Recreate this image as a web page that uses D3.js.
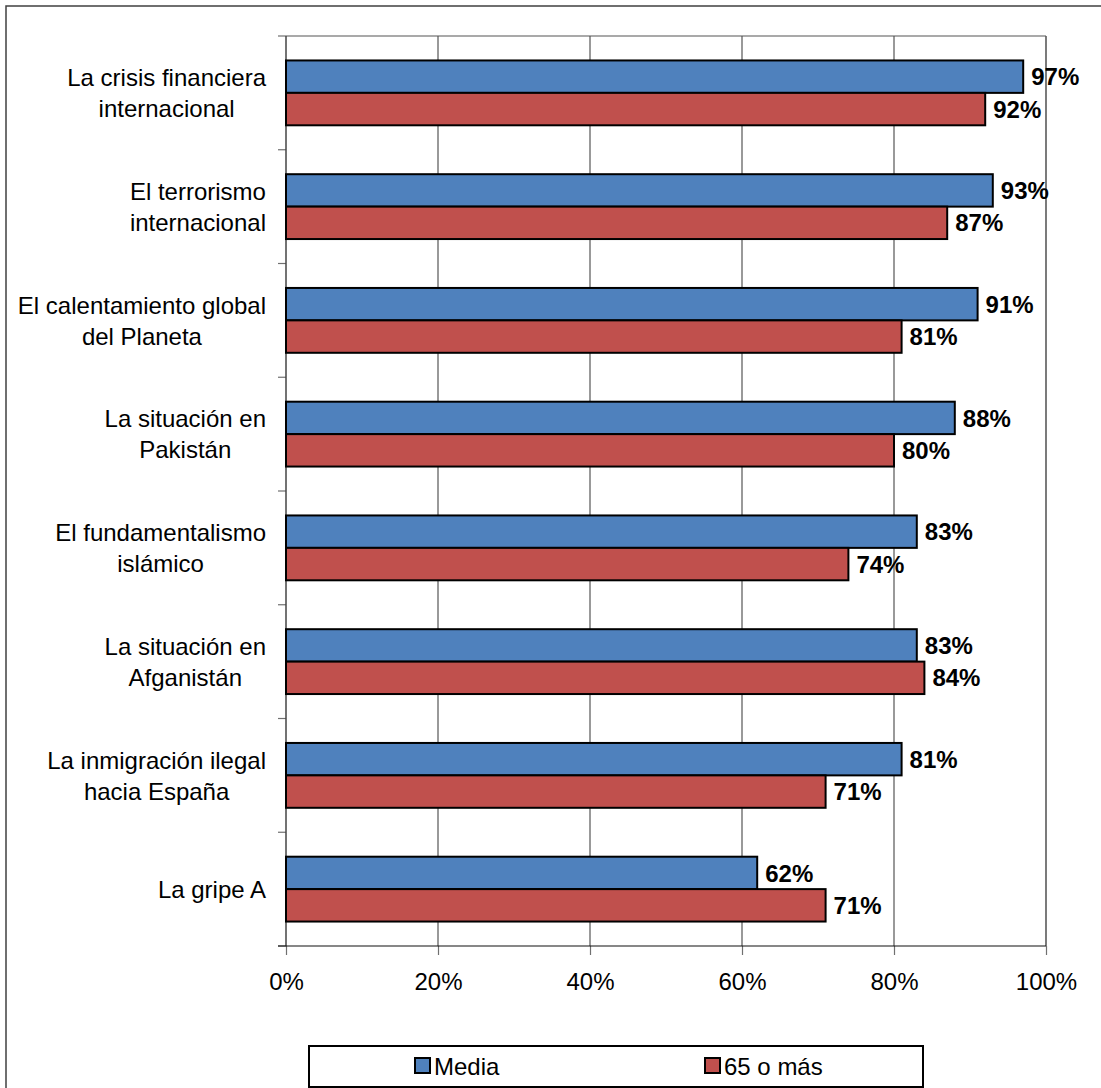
<!DOCTYPE html>
<html>
<head>
<meta charset="utf-8">
<script src="https://cdn.jsdelivr.net/npm/d3@7"></script>
<style>
  body { margin: 0; background: #fff; }
  text { font-family: "Liberation Sans", Arial, sans-serif; }
</style>
</head>
<body>
<script>
var categories = [
  "La crisis financiera|internacional",
  "El terrorismo|internacional",
  "El calentamiento global|del Planeta",
  "La situación en|Pakistán",
  "El fundamentalismo|islámico",
  "La situación en|Afganistán",
  "La inmigración ilegal|hacia España",
  "La gripe A"
];
var seriesNames = ["Media", "65 o más"];
var media = [97, 93, 91, 88, 83, 83, 81, 62];
var mayores = [92, 87, 81, 80, 74, 84, 71, 71];
var tickValues = [0, 20, 40, 60, 80, 100];
var colors = ["#4F81BD", "#C0504D"];

var width = 1101, height = 1088;
var margin = { left: 286, right: 55, top: 36, bottom: 142 };

var svg = d3.select("body").append("svg")
  .attr("width", width)
  .attr("height", height);

// outer chart border (cut off on right and bottom)
svg.append("rect")
  .attr("x", 6).attr("y", 6)
  .attr("width", 1100).attr("height", 1090)
  .attr("fill", "none")
  .attr("stroke", "#404040")
  .attr("stroke-width", 1.5);

var x = d3.scaleLinear()
  .domain([0, 100])
  .range([margin.left, width - margin.right]);

var y = d3.scaleBand()
  .domain(categories)
  .range([margin.top, height - margin.bottom])
  .paddingInner(0.43)
  .paddingOuter(0.215);

var ySub = d3.scaleBand()
  .domain(seriesNames)
  .range([0, y.bandwidth()]);

var plotTop = margin.top, plotBottom = height - margin.bottom;

// vertical gridlines
svg.append("g")
  .selectAll("line")
  .data(tickValues.slice(1))
  .enter()
  .append("line")
  .attr("x1", function (d) { return x(d); })
  .attr("x2", function (d) { return x(d); })
  .attr("y1", plotTop)
  .attr("y2", plotBottom)
  .attr("stroke", function (d) { return d === 100 ? "#222" : "#555"; })
  .attr("stroke-width", 1.2);

// top frame line
svg.append("line")
  .attr("x1", x(0)).attr("x2", x(100))
  .attr("y1", plotTop).attr("y2", plotTop)
  .attr("stroke", "#555").attr("stroke-width", 1.2);

// y axis (category ticks between groups)
var step = y.step();
var yTicks = d3.range(categories.length + 1).map(function (i) { return plotTop + i * step; });
svg.append("g")
  .selectAll("line")
  .data(yTicks)
  .enter()
  .append("line")
  .attr("x1", x(0) - 8).attr("x2", x(0))
  .attr("y1", function (d) { return d; })
  .attr("y2", function (d) { return d; })
  .attr("stroke", "#707070").attr("stroke-width", 1.2);

svg.append("line")
  .attr("x1", x(0)).attr("x2", x(0))
  .attr("y1", plotTop).attr("y2", plotBottom)
  .attr("stroke", "#444").attr("stroke-width", 1.5);

// x axis
var xAxis = d3.axisBottom(x)
  .tickValues(tickValues)
  .tickSize(9)
  .tickFormat(function (d) { return d + "%"; });

var gx = svg.append("g")
  .attr("transform", "translate(0," + plotBottom + ")")
  .call(xAxis);
gx.select(".domain").remove();
gx.selectAll(".tick line").attr("stroke", "#707070").attr("stroke-width", 1.2);
gx.selectAll(".tick text")
  .attr("y", 27)
  .attr("dy", "0.71em")
  .attr("fill", "#000")
  .style("font-size", "24px");
svg.append("line")
  .attr("x1", x(0) - 8).attr("x2", x(100))
  .attr("y1", plotBottom).attr("y2", plotBottom)
  .attr("stroke", "#111").attr("stroke-width", 1.2);

// bars
var rows = categories.map(function (c, i) {
  return { cat: c, values: [media[i], mayores[i]] };
});

var groups = svg.append("g")
  .selectAll("g")
  .data(rows)
  .enter()
  .append("g")
  .attr("transform", function (d) { return "translate(0," + y(d.cat) + ")"; });

groups.selectAll("rect")
  .data(function (d) { return d.values.map(function (v, j) { return { v: v, s: seriesNames[j], j: j }; }); })
  .enter()
  .append("rect")
  .attr("x", x(0))
  .attr("y", function (d) { return ySub(d.s); })
  .attr("width", function (d) { return x(d.v) - x(0); })
  .attr("height", ySub.bandwidth())
  .attr("fill", function (d) { return colors[d.j]; })
  .attr("stroke", "#000")
  .attr("stroke-width", 2);

groups.selectAll("text.val")
  .data(function (d) { return d.values.map(function (v, j) { return { v: v, s: seriesNames[j] }; }); })
  .enter()
  .append("text")
  .attr("class", "val")
  .attr("x", function (d) { return x(d.v) + 8; })
  .attr("y", function (d) { return ySub(d.s) + ySub.bandwidth() / 2; })
  .attr("dy", "0.36em")
  .style("font-size", "24px")
  .style("font-weight", "bold")
  .text(function (d) { return d.v + "%"; });

// category labels, wrapped lines centred on their own block, block right-aligned
var labelRight = 266;
var lineH = 31;
categories.forEach(function (c) {
  var lines = c.split("|");
  var t = svg.append("text")
    .style("font-size", "24px")
    .attr("text-anchor", "middle")
    .attr("fill", "#000");
  var cy = y(c) + y.bandwidth() / 2;
  lines.forEach(function (ln, k) {
    t.append("tspan")
      .attr("y", cy + (k - (lines.length - 1) / 2) * lineH)
      .attr("dy", "0.36em")
      .text(ln);
  });
  var maxW = 0;
  t.selectAll("tspan").each(function () {
    maxW = Math.max(maxW, this.getComputedTextLength());
  });
  t.selectAll("tspan").attr("x", labelRight - maxW / 2);
});

// legend
var legend = svg.append("g");
legend.append("rect")
  .attr("x", 309).attr("y", 1046)
  .attr("width", 614).attr("height", 41)
  .attr("fill", "#fff")
  .attr("stroke", "#000")
  .attr("stroke-width", 2);

var legendX = [415, 705];
seriesNames.forEach(function (s, i) {
  legend.append("rect")
    .attr("x", legendX[i]).attr("y", 1058)
    .attr("width", 15).attr("height", 15)
    .attr("fill", colors[i])
    .attr("stroke", "#000")
    .attr("stroke-width", 2);
  legend.append("text")
    .attr("x", legendX[i] + 19)
    .attr("y", 1066)
    .attr("dy", "0.36em")
    .style("font-size", "24px")
    .text(s);
});
</script>
</body>
</html>
